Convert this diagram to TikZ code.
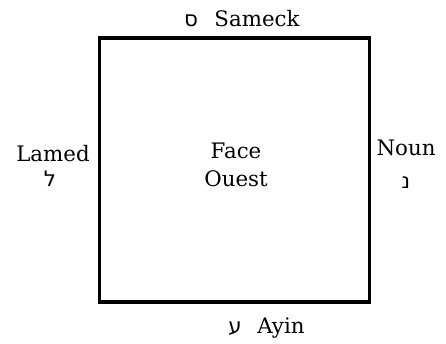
\documentclass[tikz,border=0pt]{standalone}
\usepackage{fontspec}
\setmainfont{DejaVu Serif}
\newfontfamily\hebfont[Script=Hebrew]{DejaVu Sans}
\TeXXeTstate=1
\usetikzlibrary{positioning}

\begin{document}
\begin{tikzpicture}[
  x=0.75pt, y=-0.75pt,
  face/.style={rectangle, draw, line width=2.4pt, minimum width=203pt,
               minimum height=198pt, inner sep=0pt},
  lbl/.style={font=\fontsize{16}{19}\selectfont, inner sep=0pt, anchor=base},
  heb/.style={font=\fontsize{16}{19}\hebfont, inner sep=0pt, anchor=base},
]
  \useasboundingbox (0,0) rectangle (446,343);
  \node[face] (wall) at (234.5,170) {};

  \node[lbl] (facetxt) at (236,158) {Face};
  \node[lbl] (ouest) at (236,186) {Ouest};

  % top
  \node[lbl] (sameck) at (257,26) {Sameck};
  \node[heb] (samekh) at (191,26) {\beginR ס\endR};
  % left
  \node[lbl] (lamed) at (53,161) {Lamed};
  \node[heb] (lamedh) at (50,186) {\beginR ל\endR};
  % right
  \node[lbl] (noun) at (406,155) {Noun};
  \node[heb] (nun) at (406,188) {\beginR נ\endR};
  % bottom
  \node[lbl] (ayin) at (281,333) {Ayin};
  \node[heb] (ayinh) at (235,333) {\beginR ע\endR};
\end{tikzpicture}
\end{document}
